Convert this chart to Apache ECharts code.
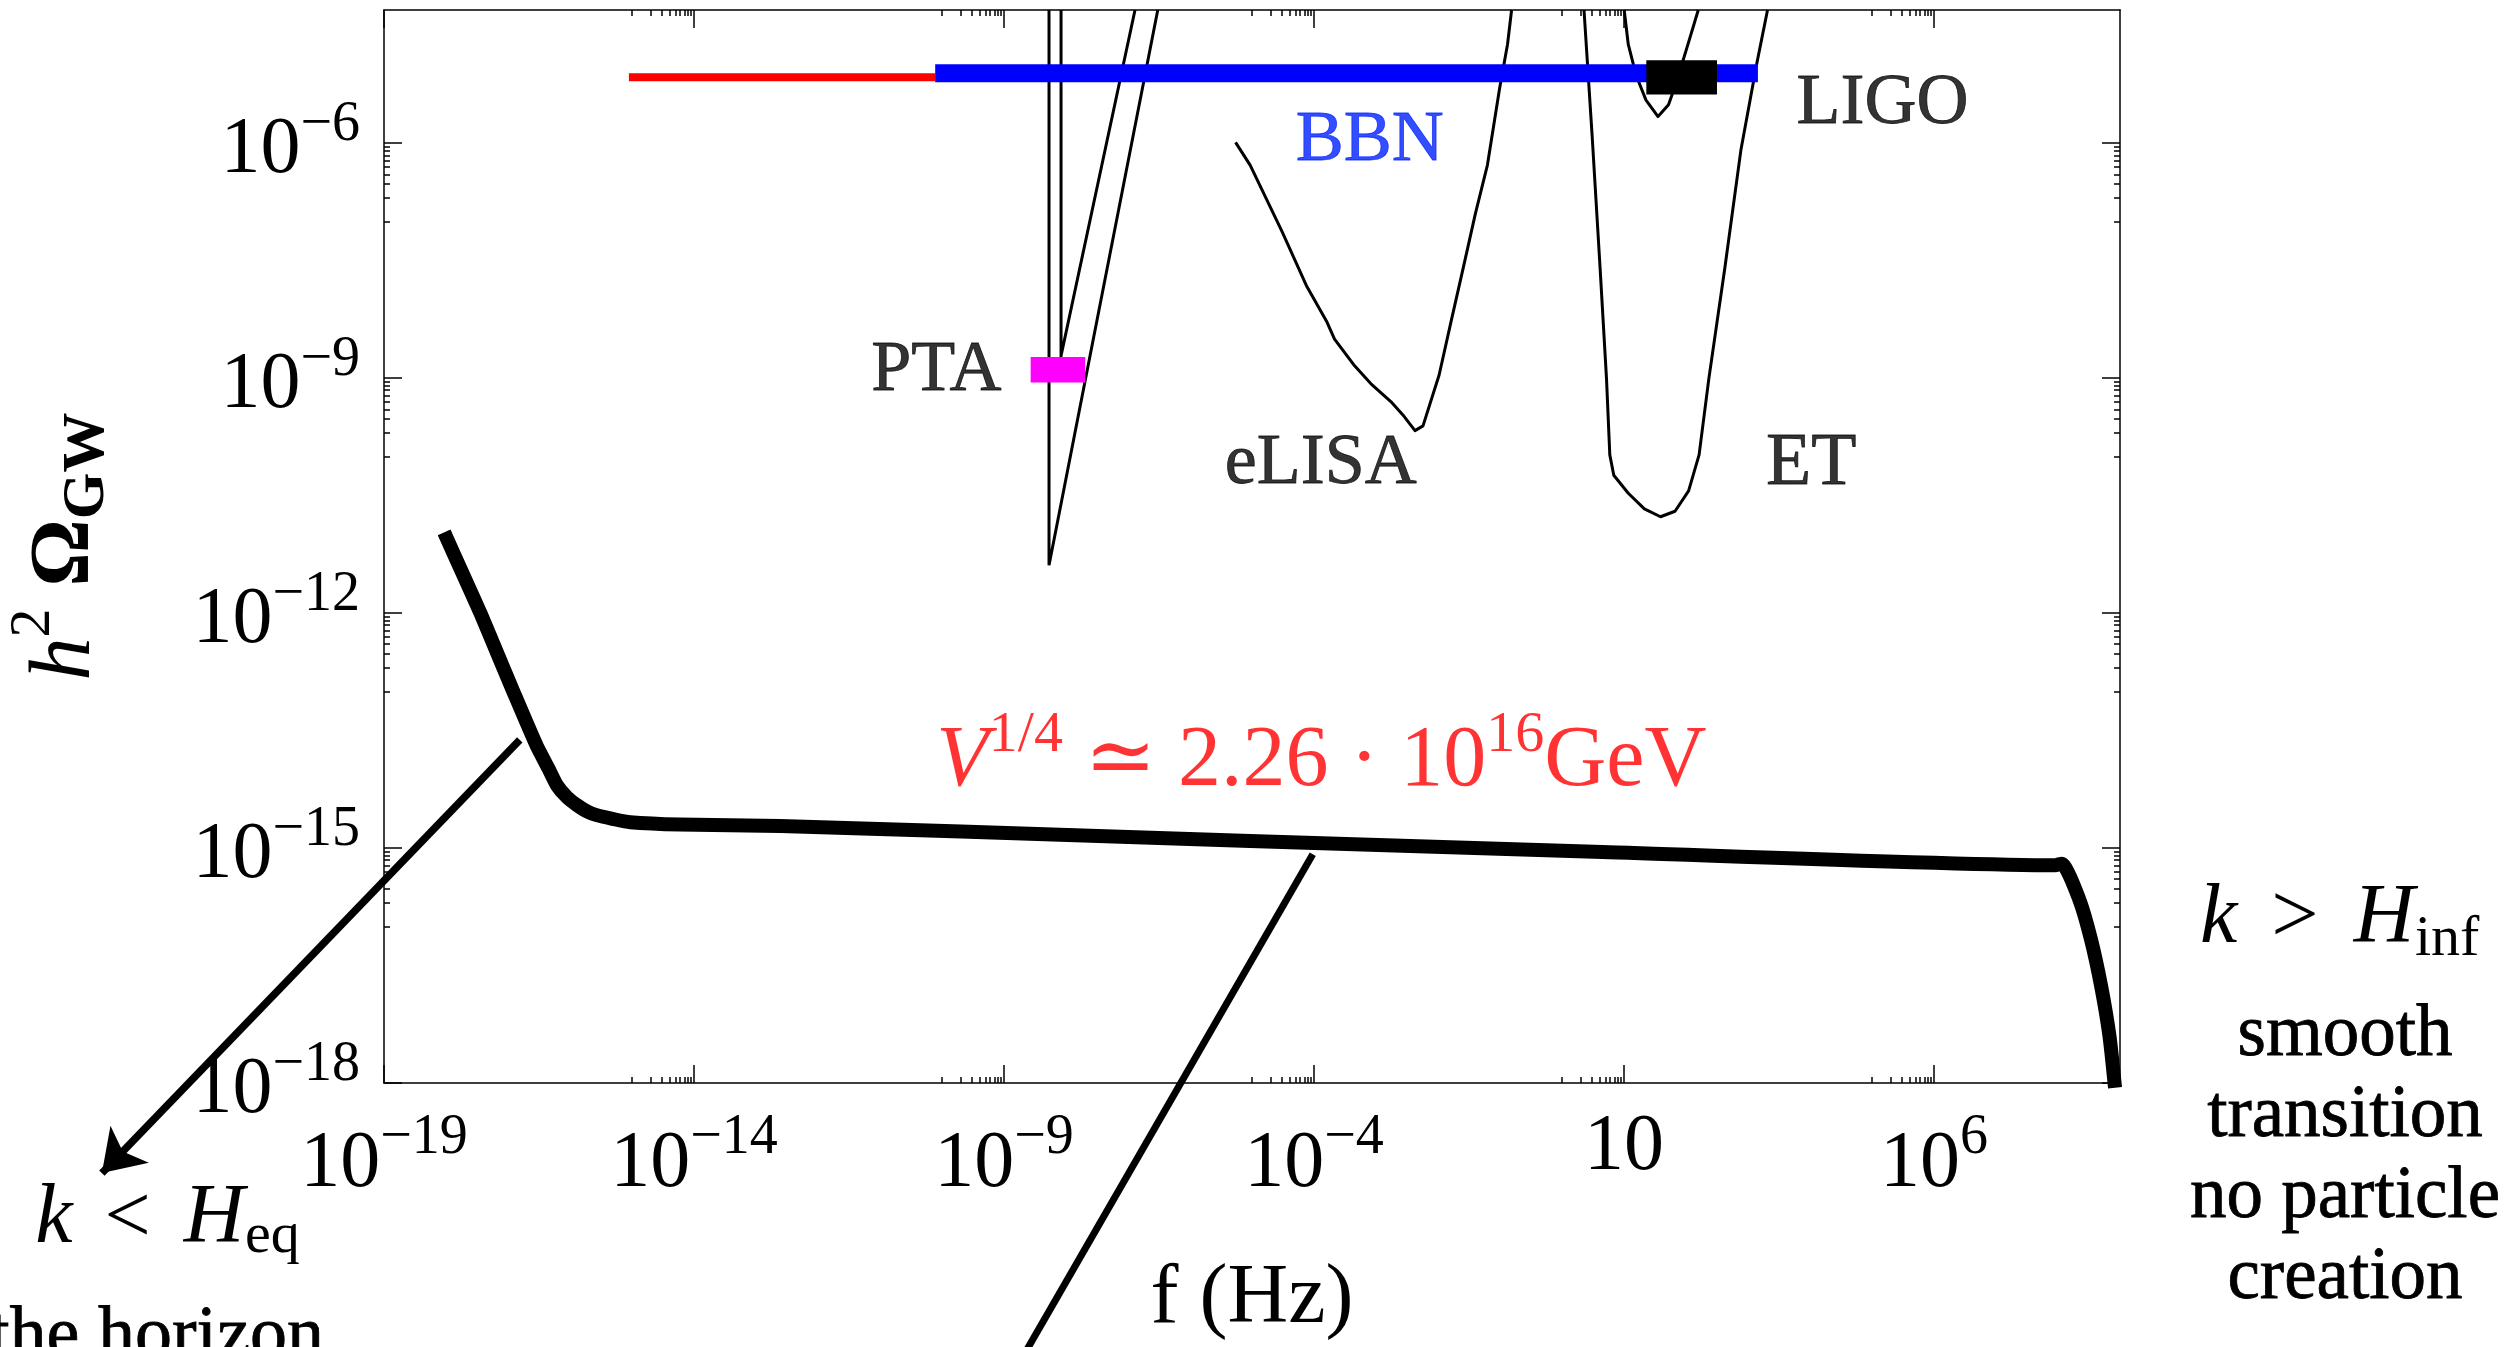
<!DOCTYPE html>
<html><head><meta charset="utf-8">
<script src="https://cdn.jsdelivr.net/npm/echarts@6/dist/echarts.min.js"></script>
<style>html,body{margin:0;padding:0;background:#fff;overflow:hidden}#c{width:2512px;height:1347px}</style>
</head><body><div id="c"></div>
<script>
// ---- DATA (all values are log10 of f [Hz] and log10 of h^2 Omega_GW) ----
const xTickExp = [-19, -14, -9, -4, 1, 6];
const yTickExp = [-18, -15, -12, -9, -6];
const xRange = [-19, 9];
const yRange = [-18, -4.3];

const mainSpectrum = [
  [-18.03,-10.97],[-17.74,-11.48],[-17.45,-11.99],[-17.18,-12.50],[-16.91,-13.01],
  [-16.54,-13.69],[-16.35,-13.98],[-16.21,-14.20],[-16.05,-14.35],[-15.89,-14.45],
  [-15.73,-14.53],[-15.57,-14.58],[-15.30,-14.63],[-15.03,-14.67],[-14.23,-14.70],
  [-12.61,-14.72],[-9.69,-14.79],[-5.03,-14.91],[0.65,-15.05],[7.95,-15.22],
  [8.06,-15.20],[8.34,-15.65],[8.53,-16.16],[8.70,-16.78],[8.83,-17.40],[8.92,-18.06]
];
const arrowSegment = [[-16.81,-13.62],[-23.55,-19.15]];
const steepLine = [[-4.02,-15.08],[-8.7,-21.5]];
const ptaCurve1 = [[-8.274,-4.3],[-8.274,-11.39],[-6.52,-4.3]];
const ptaCurve2 = [[-8.08,-4.3],[-8.08,-8.715],[-6.887,-4.3]];
const elisaCurve = [
  [-5.265,-5.99],[-5.03,-6.28],[-4.513,-7.133],[-4.124,-7.817],[-3.798,-8.273],[-3.669,-8.502],
  [-3.345,-8.843],[-3.085,-9.07],[-2.761,-9.30],[-2.566,-9.47],[-2.371,-9.67],[-2.242,-9.61],
  [-1.982,-8.96],[-1.787,-8.27],[-1.592,-7.59],[-1.397,-6.90],[-1.203,-6.28],[-1.008,-5.31],
  [-0.879,-4.74],[-0.813,-4.30]
];
const etCurve = [
  [0.355,-4.30],[0.484,-5.88],[0.614,-7.59],[0.718,-9.01],[0.771,-9.98],[0.835,-10.24],
  [1.069,-10.47],[1.329,-10.67],[1.589,-10.77],[1.823,-10.70],[2.042,-10.44],[2.211,-9.98],
  [2.368,-9.01],[2.627,-7.59],[2.887,-6.08],[3.145,-4.97],[3.315,-4.30]
];
const ligoCurve = [
  [1.003,-4.30],[1.069,-4.74],[1.198,-5.14],[1.355,-5.45],[1.549,-5.66],[1.718,-5.51],
  [1.847,-5.22],[2.042,-4.71],[2.198,-4.30]
];
const bbnRed = [[-15.05,-5.16],[-10.11,-5.16]];
const bbnBlue = [[-10.11,-5.106],[3.16,-5.106]];
const ptaBox = [[-8.57,-8.73,-7.69,-9.055]];
const ligoBox = [[1.36,-4.94,2.5,-5.38]];
const plotLabels = [
  {name:'PTA',   pos:[-10.09,-8.91]},
  {name:'LIGO',  pos:[5.17,-5.50]},
  {name:'BBN',   pos:[-3.10,-5.98]},
  {name:'eLISA', pos:[-3.89,-10.10]},
  {name:'ET',    pos:[4.02,-10.10]}
];
const formulaPos = [-3.88,-13.80];

// ---- CHART ----
const FONT = "'Liberation Serif', 'DejaVu Serif', serif";
const minorOf = (majors, lo, hi) => {
  const out = [];
  majors.forEach(m => { for (let k = 1; k <= 9; k++) { const v = (m - 1) + Math.log10(k); if (v >= lo - 1e-9 && v <= hi + 1e-9) out.push(v); } });
  return out;
};
const xMinor = minorOf(xTickExp, xRange[0], xRange[1]);
const yMinor = minorOf(yTickExp, yRange[0], yRange[1]);
const supText = v => (v < 0 ? '\u2212' : '') + Math.abs(v);
const blk = '#000';
const lineSt = {color: blk, width: 1.5};

function xAx(pos, vals, len, opts) {
  return Object.assign({
    type:'value', min:xRange[0], max:xRange[1], position:pos, gridIndex:0,
    axisLine:{show:false, onZero:false, lineStyle:lineSt},
    axisTick:{show:true, inside:true, length:len, customValues:vals, lineStyle:lineSt},
    axisLabel:{show:false}, splitLine:{show:false}, minorTick:{show:false}
  }, opts || {});
}
function yAx(pos, vals, len, opts) {
  return Object.assign({
    type:'value', min:yRange[0], max:yRange[1], position:pos, gridIndex:0,
    axisLine:{show:false, onZero:false, lineStyle:lineSt},
    axisTick:{show:true, inside:true, length:len, customValues:vals, lineStyle:lineSt},
    axisLabel:{show:false}, splitLine:{show:false}, minorTick:{show:false}
  }, opts || {});
}

const xAxes = [
  xAx('bottom', xTickExp, 18, {
    axisLine:{show:true, onZero:false, lineStyle:lineSt},
    axisLabel:{show:true, customValues:xTickExp, margin:35, color:blk,
      formatter: v => Math.round(v) === 1 ? '{one|10}' : '{b|10}{s|' + supText(Math.round(v)) + '}',
      rich:{
        b:{fontFamily:FONT, fontSize:80, height:60, lineHeight:77, verticalAlign:'bottom', color:blk},
        s:{fontFamily:FONT, fontSize:56, height:40, lineHeight:40, verticalAlign:'top', color:blk},
        one:{fontFamily:FONT, fontSize:80, height:60, lineHeight:60, color:blk}
      }},
    name:'f (Hz)', nameLocation:'middle', nameGap:175,
    nameTextStyle:{fontFamily:FONT, fontSize:84, lineHeight:84, color:blk}
  }),
  xAx('bottom', xMinor, 6),
  xAx('top', xTickExp, 18, {axisLine:{show:true, onZero:false, lineStyle:lineSt}}),
  xAx('top', xMinor, 6)
];
const yAxes = [
  yAx('left', yTickExp, 18, {
    axisLine:{show:true, onZero:false, lineStyle:lineSt},
    axisLabel:{show:true, customValues:yTickExp, margin:24, color:blk,
      formatter: v => '{b|10}{s|' + supText(Math.round(v)) + '}',
      rich:{
        b:{fontFamily:FONT, fontSize:80, height:60, lineHeight:76, verticalAlign:'bottom', color:blk},
        s:{fontFamily:FONT, fontSize:56, height:40, lineHeight:40, verticalAlign:'top', color:blk}
      }},
    name:'{h|h}{s|2}{sp| }{o|\u03A9}{g|GW}', nameLocation:'middle', nameGap:272, nameRotate:90,
    nameTextStyle:{rich:{
      h:{fontFamily:FONT, fontSize:86, fontStyle:'italic', height:91, lineHeight:103, verticalAlign:'bottom', color:blk},
      s:{fontFamily:FONT, fontSize:58, height:50, lineHeight:50, verticalAlign:'top', color:blk},
      sp:{fontFamily:FONT, fontSize:36, width:22, height:91, lineHeight:103, verticalAlign:'bottom', color:blk},
      o:{fontFamily:FONT, fontSize:84, fontWeight:'bold', height:91, lineHeight:103, verticalAlign:'bottom', color:blk},
      g:{fontFamily:FONT, fontSize:60, fontWeight:'bold', height:50, lineHeight:50, verticalAlign:'bottom', color:blk}
    }}
  }),
  yAx('left', yMinor, 6),
  yAx('right', yTickExp, 18, {axisLine:{show:true, onZero:false, lineStyle:lineSt}}),
  yAx('right', yMinor, 6)
];

function lineSeries(name, data, color, width, clip, extra) {
  return Object.assign({type:'line', name, data, showSymbol:false, symbol:'none', clip: clip !== false,
    lineStyle:{color, width, cap:'butt', join:'round'}, silent:true, z:2}, extra || {});
}
function rectSeries(name, data, color) {
  return {type:'custom', name, data, encode:{x:[0,2], y:[1,3]}, silent:true, z:3,
    renderItem:(params, api) => {
      const p0 = api.coord([api.value(0), api.value(1)]);
      const p1 = api.coord([api.value(2), api.value(3)]);
      return {type:'rect', shape:{x:Math.min(p0[0],p1[0]), y:Math.min(p0[1],p1[1]),
        width:Math.abs(p1[0]-p0[0]), height:Math.abs(p1[1]-p0[1])}, style:{fill:color}};
    }};
}

const labelData = plotLabels.map(l => {
  const c = l.name === 'BBN' ? '#0022ff' : blk;
  return {
    value:l.pos, name:l.name,
    label:{show:true, position:'inside', align:'center', verticalAlign:'middle', formatter:'{b}',
      fontFamily:FONT, fontSize:l.name === 'ET' ? 74 : 72, color:c, textBorderColor:c, textBorderWidth:0.8}
  };
});
const redRich = {
  v:{fontFamily:FONT, fontSize:86, fontStyle:'italic', height:60, lineHeight:76, verticalAlign:'bottom', color:'#ff0000'},
  m:{fontFamily:FONT, fontSize:86, height:60, lineHeight:76, verticalAlign:'bottom', color:'#ff0000'},
  s:{fontFamily:FONT, fontSize:58, height:40, lineHeight:40, verticalAlign:'top', color:'#ff0000'}
};
labelData.push({
  value:formulaPos, name:'formula',
  label:{show:true, position:'inside', align:'center', verticalAlign:'middle', color:'#ff0000',
    formatter:'{v|V}{s|1/4}{m| \u2243 2.26 \u00B7 10}{s|16}{m|GeV}', rich:redRich}
});

const option = {
  animation:false,
  backgroundColor:'#fff',
  grid:{left:384, right:392, top:10, bottom:264, containLabel:false, outerBoundsMode:'none'},
  xAxis:xAxes,
  yAxis:yAxes,
  series:[
    lineSeries('PTA sensitivity 1', ptaCurve1, blk, 3, true, {lineStyle:{color:blk, width:3, cap:'butt', join:'miter'}}),
    lineSeries('PTA sensitivity 2', ptaCurve2, blk, 3, true, {lineStyle:{color:blk, width:3, cap:'butt', join:'miter'}}),
    lineSeries('eLISA', elisaCurve, blk, 3),
    lineSeries('ET', etCurve, blk, 3),
    lineSeries('LIGO', ligoCurve, blk, 3),
    lineSeries('BBN (red)', bbnRed, '#ff0000', 8),
    lineSeries('BBN', bbnBlue, '#0000ff', 18),
    rectSeries('LIGO bound', ligoBox, '#000'),
    rectSeries('PTA bound', ptaBox, '#ff00ff'),
    lineSeries('spectrum', mainSpectrum, blk, 14, false, {smooth:0.2}),
    lineSeries('steep line', steepLine, blk, 7, false),
    {type:'lines', coordinateSystem:'cartesian2d', clip:false, silent:true, z:4,
      symbol:['none','arrow'], symbolSize:40,
      lineStyle:{color:blk, width:7.5, opacity:1},
      data:[{coords:arrowSegment}]},
    {type:'scatter', symbolSize:1, itemStyle:{color:'rgba(0,0,0,0)'}, silent:true, z:5,
      data:labelData}
  ],
  graphic:[
    {type:'text', x:2200, y:890, silent:true, style:{
      text:'{k|k}{g|>}{H|H}{s|inf}', align:'left', verticalAlign:'top',
      rich:{
        k:{fontFamily:FONT, fontSize:84, fontStyle:'italic', height:60, lineHeight:60, verticalAlign:'top', width:37, fill:blk},
        g:{fontFamily:FONT, fontSize:84, height:60, lineHeight:60, verticalAlign:'top', width:116, align:'center', fill:blk},
        H:{fontFamily:FONT, fontSize:84, fontStyle:'italic', height:60, lineHeight:60, verticalAlign:'top', width:62, fill:blk},
        s:{fontFamily:FONT, fontSize:58, height:40, lineHeight:70, verticalAlign:'bottom', fill:blk}
      }}},
    {type:'text', x:2345, y:995, silent:true, style:{
      text:'smooth\ntransition\nno particle\ncreation', align:'center', verticalAlign:'top',
      fontFamily:FONT, fontSize:73, lineHeight:81, fill:blk, stroke:blk, lineWidth:0.8}},
    {type:'text', x:-75, y:1190, silent:true, style:{
      text:'{lt|<}{k|k}{lt|<}{H|H}{s|eq}', align:'left', verticalAlign:'top',
      rich:{
        lt:{fontFamily:FONT, fontSize:82, height:60, lineHeight:60, verticalAlign:'top', width:111, align:'center', fill:blk},
        k:{fontFamily:FONT, fontSize:84, fontStyle:'italic', height:60, lineHeight:60, verticalAlign:'top', width:36, fill:blk},
        H:{fontFamily:FONT, fontSize:84, fontStyle:'italic', height:60, lineHeight:60, verticalAlign:'top', width:62, fill:blk},
        s:{fontFamily:FONT, fontSize:58, height:40, lineHeight:67, verticalAlign:'bottom', fill:blk}
      }}},
    {type:'text', x:324, y:1338, silent:true, style:{
      text:'outside the horizon', align:'right', verticalAlign:'middle',
      fontFamily:FONT, fontSize:74, lineHeight:74, fill:blk, stroke:blk, lineWidth:0.8}}
  ]
};
const chart = echarts.init(document.getElementById('c'), null, {renderer:'canvas'});
chart.setOption(option);
</script></body></html>
